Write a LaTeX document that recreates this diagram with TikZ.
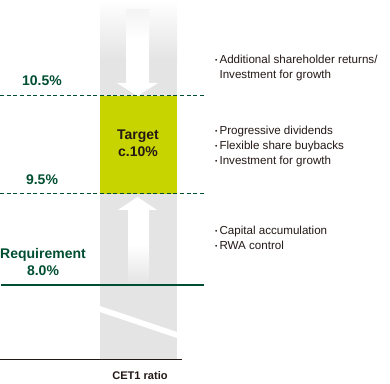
\documentclass[tikz,border=0pt]{standalone}
\usepackage{fontspec}
\setmainfont{Liberation Sans}
\usetikzlibrary{positioning}
\definecolor{capgreen}{RGB}{0, 78, 50}
\definecolor{targetlime}{RGB}{200, 212, 0}
\definecolor{bargray}{RGB}{228, 228, 228}
\definecolor{inkdark}{RGB}{35, 24, 21}
\newcommand{\bul}{\makebox[3.4pt][l]{\raisebox{0.6pt}{\fontsize{5}{5}\selectfont •}}}

\begin{document}
\begin{tikzpicture}[x=0.75pt, y=-0.75pt,
  every node/.style={inner sep=0pt, outer sep=0pt},
  lvl/.style={font=\bfseries\fontsize{10.5}{12.5}\selectfont, text=capgreen, align=center},
  note/.style={font=\fontsize{8.7}{11.3}\selectfont, text=inkdark, align=left, anchor=north west},
  limit/.style={capgreen, line width=0.75pt, dash pattern=on 3pt off 2pt},
]
  \useasboundingbox (0,0) rectangle (390,384);

  % ratio bar
  \fill[bargray] (100,0) rectangle (177,360);
  \shade[top color=white, bottom color=bargray] (100,0) rectangle (177,60);
  \fill[targetlime] (100,96) rectangle (177,194);

  % arrows in the bar
  \fill[white] (126,20) -- (149,20) -- (149,83) -- (158,83) -- (137.5,96)
    -- (117,83) -- (126,83) -- cycle;
  \shade[top color=white!60!bargray, bottom color=white] (126,10) rectangle (149,40);
  \fill[white] (137.5,197) -- (157,210) -- (149,210) -- (149,245) -- (128,245)
    -- (128,210) -- (118,210) -- cycle;
  \shade[top color=white, bottom color=bargray] (128,244.5) rectangle (149,284);

  % break mark
  \fill[white] (100,306) -- (177,332) -- (177,338) -- (100,312) -- cycle;

  % levels
  \draw[limit] (0,96) -- (204,96);
  \draw[limit] (0,194) -- (204,194);
  \draw[capgreen, line width=1.5pt] (1,285) -- (204,285);
  \draw[inkdark, line width=0.75pt] (0,360) -- (182,360);

  \node[lvl] (hi) at (42,81) {10.5\%};
  \node[lvl] (lo) at (42,180) {9.5\%};
  \node[lvl] (req) at (43,262) {Requirement\\8.0\%};
  \node[lvl, text=inkdark] (target) at (138,143) {Target\\c.10\%};
  \node[font=\bfseries\fontsize{8.3}{10}\selectfont, text=inkdark] (axis) at (140,376) {CET1 ratio};

  % actions
  \node[note] (above) at (215,55) {\bul Additional shareholder returns/\\\hspace*{3.4pt}Investment for growth};
  \node[note] (within) at (215,126) {\bul Progressive dividends\\\bul Flexible share buybacks\\\bul Investment for growth};
  \node[note] (below) at (215,226) {\bul Capital accumulation\\\bul RWA control};
\end{tikzpicture}
\end{document}
